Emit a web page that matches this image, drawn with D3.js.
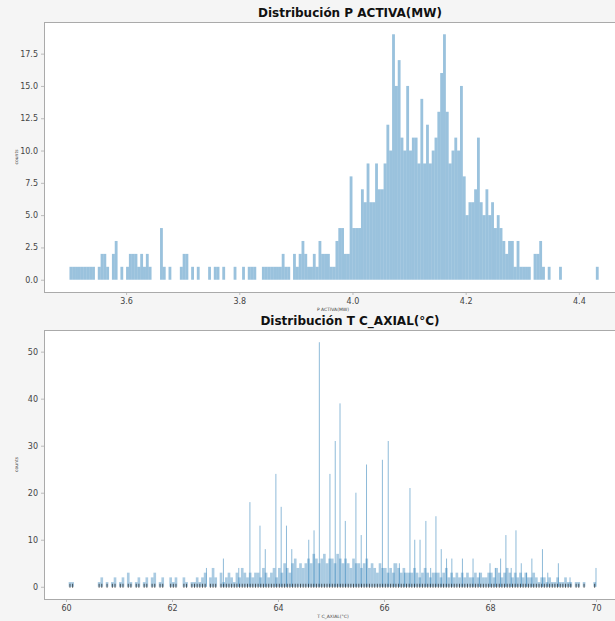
<!DOCTYPE html>
<html>
<head>
<meta charset="utf-8">
<script src="https://cdn.jsdelivr.net/npm/d3@7"></script>
<style>
  body { margin: 0; background: #f5f5f5; }
  text { font-family: "DejaVu Sans", sans-serif; }
</style>
</head>
<body>
<svg id="chart" width="615" height="621"></svg>
<script>
// ---- P ACTIVA(MW) histogram, bins of 0.005 starting at 3.500
const pBinStart = 3.5
const pBinWidth = 0.005
const pCounts = [
  1,1,1,1,1,1,1,1,1,0,
  1,2,2,1,0,2,3,0,1,0,
  1,2,2,2,1,2,1,2,1,0,
  0,0,4,1,0,1,0,0,0,1,
  2,2,0,1,0,1,0,0,0,1,
  0,1,1,0,1,0,0,0,1,0,
  0,1,0,1,1,1,0,0,1,1,
  1,1,1,1,1,2,1,1,0,2,
  1,2,3,2,1,1,2,1,3,2,
  2,2,1,1,3,4,4,2,2,8,
  4,4,4,7,6,9,6,6,9,7,
  7,9,12,10,19,15,17,11,10,15,
  10,11,11,9,14,9,12,9,10,11,
  13,16,19,13,9,10,11,10,15,8,
  5,6,6,7,11,6,5,7,5,6,
  4,5,4,3,2,3,3,1,3,1,
  1,1,1,0,2,2,3,1,0,1,
  0,0,0,1,0,0,0,0,0,0,
  0,0,0,0,0,0,1
]
const pTicksX = [3.6, 3.8, 4.0, 4.2, 4.4]
const pTicksY = [0, 2.5, 5, 7.5, 10, 12.5, 15, 17.5]

// ---- T C_AXIAL(°C): low background bins of 0.05 from 60.00, plus tall spikes
const tBinStart = 60.0
const tBinWidth = 0.05
const tCounts = [
  0,1,1,0,0,0,0,0,0,0,
  0,0,1,2,0,1,0,1,2,0,
  1,2,0,3,1,0,1,2,0,1,
  2,0,2,3,0,1,2,0,0,2,
  1,2,0,0,2,1,0,1,1,2,
  1,2,3,0,2,4,2,0,3,1,
  2,3,2,1,3,2,4,3,2,3,
  2,3,3,2,4,3,2,3,4,2,
  4,3,5,4,3,5,6,4,5,4,
  5,6,5,7,6,5,6,7,5,6,
  6,5,7,6,5,6,5,4,6,5,
  5,4,5,6,4,5,4,3,5,4,
  4,3,4,3,5,4,3,4,3,3,
  3,4,3,2,3,4,3,2,3,3,
  3,2,3,4,2,3,2,3,2,3,
  2,3,2,2,3,2,3,2,2,3,
  3,2,4,3,2,3,4,3,2,3,
  2,3,2,3,2,2,3,2,1,2,
  2,1,2,1,1,2,1,1,2,1,
  1,0,1,1,0,1,0,0,0,1
]
const tSpikeTemps = [
  62.65, 62.97, 63.26, 63.47, 63.66, 63.76, 63.96, 64.06, 64.16, 64.26,
  64.58, 64.68, 64.78, 64.98, 65.08, 65.17, 65.27, 65.47, 65.57, 65.67,
  65.97, 66.08, 66.19, 66.29, 66.39, 66.49, 66.58, 66.68, 66.79, 66.88,
  66.98, 67.08, 67.18, 67.28, 67.48, 67.68, 67.80, 68.00, 68.10, 68.20,
  68.30, 68.40, 68.49, 68.59, 68.69, 68.79, 68.99, 69.09, 69.29, 69.51,
  70.00
]
const tSpikeCounts = [
  4, 6, 4, 18, 13, 8, 24, 17, 13, 8,
  10, 12, 52, 24, 31, 39, 14, 20, 11, 26,
  27, 31, 5, 5, 3, 21, 10, 10, 14, 4,
  15, 8, 6, 6, 6, 6, 3, 5, 4, 6,
  11, 4, 12, 5, 3, 6, 8, 3, 5, 2,
  4
]
const tTicksX = [60, 62, 64, 66, 68, 70]
const tTicksY = [0, 10, 20, 30, 40, 50]

const svg = d3.select('#chart')
svg.append('rect').attr('width', 615).attr('height', 621).attr('fill', '#f5f5f5')

const left = 44, right = 650  // axes run past the picture's right edge
const barColor = '#1f77b4'

function drawPanel(opt) {
  const x = d3.scaleLinear().domain(opt.xDomain).range([left, right])
  const y = d3.scaleLinear().domain(opt.yDomain).range([opt.bottom, opt.top])

  svg.append('rect')
    .attr('x', left).attr('y', opt.top)
    .attr('width', right - left).attr('height', opt.bottom - opt.top)
    .attr('fill', '#fff')

  const g = svg.append('g')

  // histogram bins
  const bins = opt.counts.map((c, i) => ({ x0: opt.binStart + i * opt.binWidth, x1: opt.binStart + (i + 1) * opt.binWidth, c: c }))
    .filter(d => d.c > 0)
  g.selectAll('rect.bin').data(bins).enter().append('rect')
    .attr('class', 'bin')
    .attr('x', d => x(d.x0))
    .attr('width', d => Math.max(0.8, x(d.x1) - x(d.x0) - opt.gap))
    .attr('y', d => y(d.c))
    .attr('height', d => y(0) - y(d.c))
    .attr('fill', barColor)
    .attr('fill-opacity', opt.binOpacity)

  if (opt.spikes) {
    g.selectAll('rect.spike').data(opt.spikes).enter().append('rect')
      .attr('class', 'spike')
      .attr('x', d => x(d.v) - 0.5)
      .attr('width', 1)
      .attr('y', d => y(d.c))
      .attr('height', d => y(0) - y(d.c))
      .attr('fill', barColor)
      .attr('fill-opacity', 0.5)
  }

  if (opt.rug) {
    g.selectAll('line.rug').data(bins).enter().append('line')
      .attr('class', 'rug')
      .attr('x1', d => x((d.x0 + d.x1) / 2)).attr('x2', d => x((d.x0 + d.x1) / 2))
      .attr('y1', y(0) + 1).attr('y2', y(0) - 3)
      .attr('stroke', '#111').attr('stroke-width', 0.9).attr('stroke-opacity', 0.75)
  }

  // axes
  const xAxis = svg.append('g')
    .attr('transform', 'translate(0,' + opt.bottom + ')')
    .call(d3.axisBottom(x).tickValues(opt.ticksX).tickSize(3).tickPadding(3).tickFormat(opt.fmtX))
  const yAxis = svg.append('g')
    .attr('transform', 'translate(' + left + ',0)')
    .call(d3.axisLeft(y).tickValues(opt.ticksY).tickSize(3).tickPadding(3).tickFormat(opt.fmtY))
  for (const a of [xAxis, yAxis]) {
    a.select('.domain').remove()
    a.selectAll('line').attr('stroke', '#bbb')
    a.selectAll('text').attr('fill', '#444').style('font-size', '8px')
  }

  // spines
  svg.append('rect')
    .attr('x', left + 0.5).attr('y', opt.top + 0.5)
    .attr('width', right - left).attr('height', opt.bottom - opt.top)
    .attr('fill', 'none').attr('stroke', '#aaa').attr('stroke-width', 1)

  svg.append('text')
    .attr('x', 350).attr('y', opt.top - 5)
    .attr('text-anchor', 'middle')
    .style('font-size', '12px').style('font-weight', 'bold')
    .attr('fill', '#111')
    .text(opt.title)

  svg.append('text')
    .attr('x', 333).attr('y', opt.bottom + 19)
    .attr('text-anchor', 'middle')
    .style('font-size', '4.5px').attr('fill', '#444')
    .text(opt.xLabel)

  svg.append('text')
    .attr('transform', 'translate(18,' + ((opt.top + opt.bottom) / 2) + ') rotate(-90)')
    .attr('text-anchor', 'middle')
    .style('font-size', '4.5px').attr('fill', '#444')
    .text('counts')
}

drawPanel({
  top: 22, bottom: 292,
  xDomain: [3.455, 3.455 + (right - left) / 566],
  yDomain: [-0.95, 19.95],
  binStart: pBinStart, binWidth: pBinWidth, counts: pCounts, gap: 0, binOpacity: 0.45,
  ticksX: pTicksX, ticksY: pTicksY,
  fmtX: d3.format('.1f'), fmtY: d3.format('.1f'),
  title: 'Distribución P ACTIVA(MW)', xLabel: 'P ACTIVA(MW)'
})

drawPanel({
  top: 330, bottom: 599,
  xDomain: [59.585, 59.585 + (right - left) / 53],
  yDomain: [-2.6, 54.6],
  binStart: tBinStart, binWidth: tBinWidth, counts: tCounts, gap: 0, binOpacity: 0.38,
  spikes: tSpikeTemps.map((v, i) => ({ v: v, c: tSpikeCounts[i] })),
  rug: true,
  ticksX: tTicksX, ticksY: tTicksY,
  fmtX: d3.format('d'), fmtY: d3.format('d'),
  title: 'Distribución T C_AXIAL(°C)', xLabel: 'T C_AXIAL(°C)'
})
</script>
</body>
</html>
